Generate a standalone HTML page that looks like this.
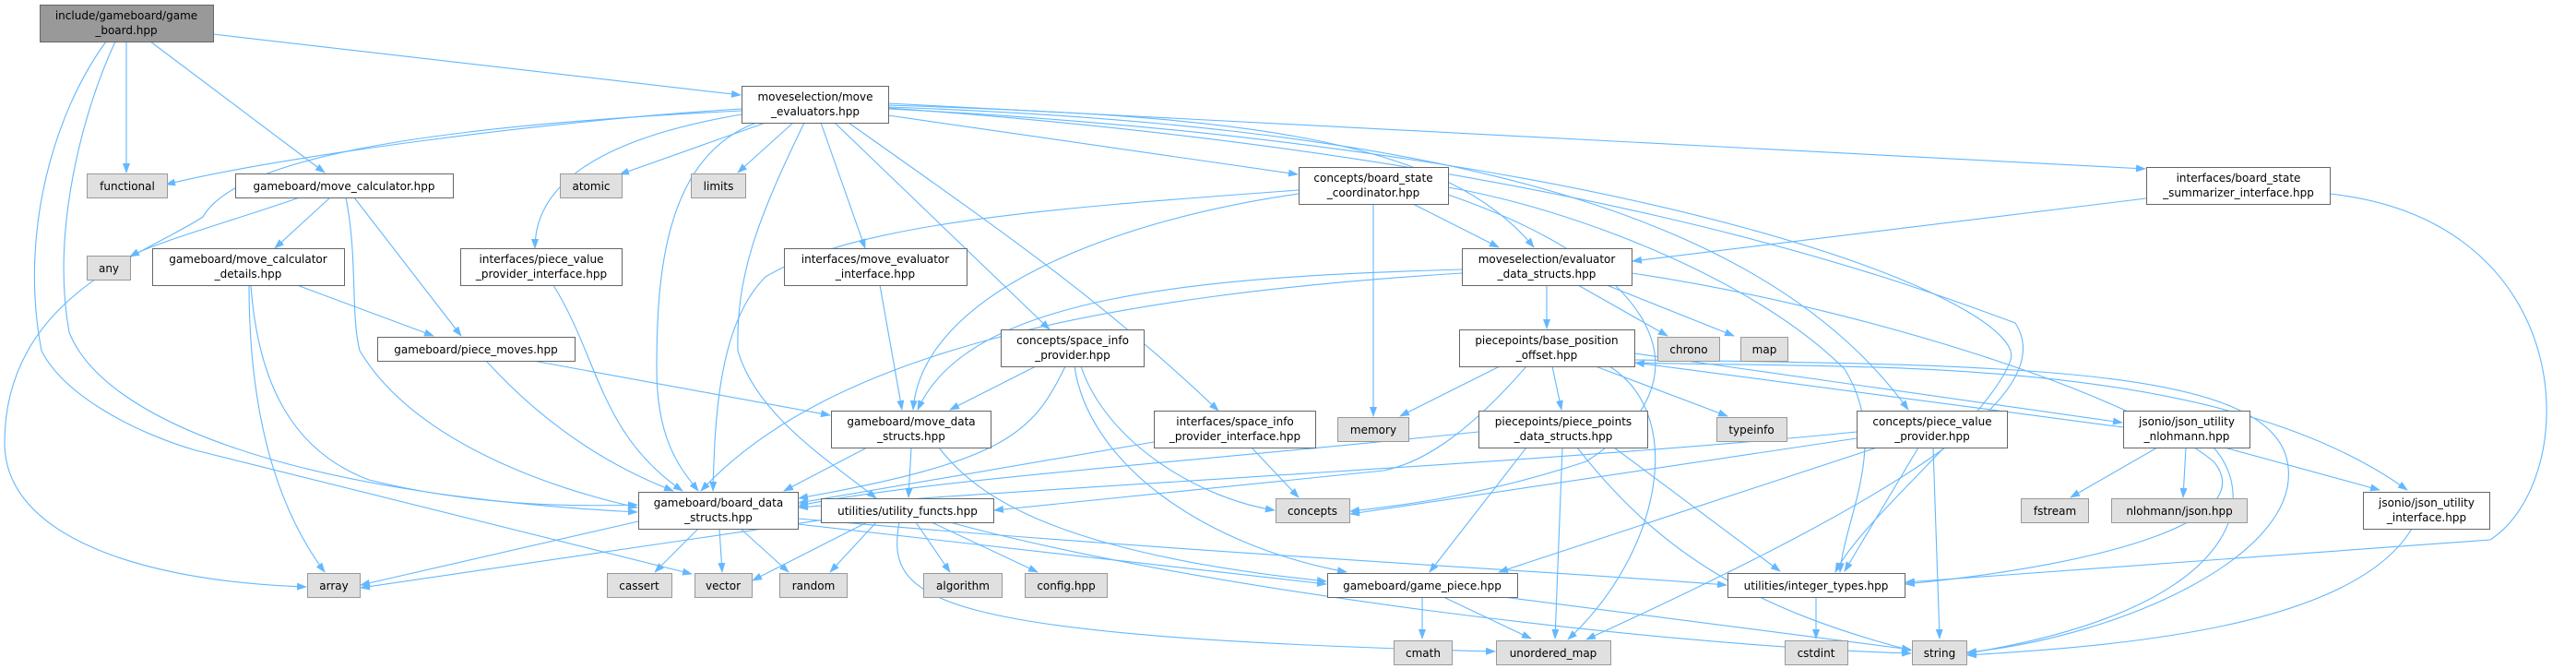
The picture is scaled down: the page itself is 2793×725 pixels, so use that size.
<!DOCTYPE html>
<html><head><meta charset="utf-8"><style>
html,body{margin:0;padding:0;background:#fff;}
svg{display:block;}
text{font-family:"DejaVu Sans","Liberation Sans",sans-serif;font-size:12px;fill:#000;text-anchor:middle;}
.e{fill:none;stroke:#63b8ff;stroke-width:1.1;marker-end:url(#a);}
.n{fill:#fff;stroke:#666;stroke-width:1;}
.s{fill:#e0e0e0;stroke:#999;stroke-width:1;}
.m{fill:#999;stroke:#666;stroke-width:1;}
</style></head><body>
<svg width="2793" height="725" viewBox="0 0 2793 725" xmlns="http://www.w3.org/2000/svg">
<defs><marker id="a" markerWidth="11" markerHeight="8" refX="10" refY="4" orient="auto" markerUnits="userSpaceOnUse"><path d="M0,0 L11,4 L0,8 z" fill="#63b8ff"/></marker></defs>
<g>
<!-- gameboard.hpp edges -->
<path class="e" d="M137,45 L137,187"/>
<path class="e" d="M163,45 L352,187"/>
<path class="e" d="M231,37 L803,103"/>
<path class="e" d="M115,45 C60,120 20,250 45,380 C70,430 150,470 212,488 L750,622"/>
<path class="e" d="M125,45 C90,120 55,250 75,360 C110,450 300,535 691,555"/>
<!-- move_evaluators edges -->
<path class="e" d="M804,120 C500,135 260,165 220,235 C160,275 5,320 5,480 C5,580 150,630 332,636"/>
<path class="e" d="M804,118 C600,130 300,170 180,200"/>
<path class="e" d="M830,133 L672,189"/>
<path class="e" d="M860,133 L800,187"/>
<path class="e" d="M820,133 C720,170 712,300 712,400 C712,480 740,510 757,532"/>
<path class="e" d="M804,124 C650,150 580,200 580,269"/>
<path class="e" d="M890,133 L938,269"/>
<path class="e" d="M872,133 C820,240 798,300 800,380 C820,450 900,500 950,540"/>
<path class="e" d="M905,133 L1138,357"/>
<path class="e" d="M920,133 C1100,260 1200,330 1321,445"/>
<path class="e" d="M963,125 L1407,189"/>
<path class="e" d="M963,114 C1300,125 1560,140 1663,268"/>
<path class="e" d="M963,116 C1500,135 1900,210 2069,444"/>
<path class="e" d="M963,112 L2326,183"/>
<path class="e" d="M963,118 C1800,160 2200,330 2180,390 C2160,450 2020,560 1990,620"/>
<path class="e" d="M963,117 C1700,170 2050,300 2185,350 C2230,420 2100,520 1720,693"/>
<!-- move_calculator edges -->
<path class="e" d="M325,214 C250,240 170,262 141,278"/>
<path class="e" d="M358,214 L298,269"/>
<path class="e" d="M375,214 C388,280 380,340 390,380 C450,480 600,530 691,550"/>
<path class="e" d="M384,214 L500,364"/>
<path class="e" d="M322,309 L470,364"/>
<path class="e" d="M270,309 C270,450 300,550 352,620"/>
<path class="e" d="M272,309 C280,420 320,490 400,520 C500,545 600,550 691,547"/>
<path class="e" d="M600,309 C650,390 650,470 740,532"/>
<path class="e" d="M527,391 C590,460 660,505 730,532"/>
<path class="e" d="M578,391 L900,450"/>
<path class="e" d="M954,309 L978,444"/>
<!-- space_info_provider -->
<path class="e" d="M1123,397 L1030,444"/>
<path class="e" d="M1155,397 C1120,470 1090,500 866,540"/>
<path class="e" d="M1172,397 C1200,480 1300,540 1382,553"/>
<path class="e" d="M1165,397 C1180,500 1300,590 1460,620"/>
<path class="e" d="M1251,479 L866,545"/>
<path class="e" d="M1357,485 L1408,539"/>
<!-- board_state_coordinator -->
<path class="e" d="M1489,221 L1489,451"/>
<path class="e" d="M1532,221 L1625,268"/>
<path class="e" d="M1408,206 C1150,225 930,240 830,300 C780,350 775,450 773,532"/>
<path class="e" d="M1408,210 C1200,240 1000,320 990,444"/>
<path class="e" d="M1570,211 C1800,290 1860,410 1720,500 C1600,540 1500,550 1464,554"/>
<path class="e" d="M1570,203 C1700,225 1900,300 2000,400 C2050,480 2000,560 1995,620"/>
<!-- evaluator_data_structs -->
<path class="e" d="M1677,309 L1677,356"/>
<path class="e" d="M1711,309 L1808,364"/>
<path class="e" d="M1742,309 L1880,364"/>
<path class="e" d="M1585,292 C1300,300 1050,320 995,444"/>
<path class="e" d="M1585,296 C1200,320 900,380 760,532"/>
<path class="e" d="M1769,296 C2000,330 2300,420 2400,500 C2450,560 2300,610 2066,633"/>
<path class="e" d="M2327,215 L1770,283"/>
<path class="e" d="M2526,210 C2800,240 2800,520 2700,585 L2066,631"/>
<!-- base_position_offset -->
<path class="e" d="M1626,397 L1518,451"/>
<path class="e" d="M1683,397 L1693,444"/>
<path class="e" d="M1730,397 L1873,451"/>
<path class="e" d="M1655,397 C1600,460 1550,500 1500,510 C1300,530 1150,545 1078,553"/>
<path class="e" d="M1772,383 L2301,458"/>
<path class="e" d="M1772,393 C2000,400 2400,380 2610,531"/>
<path class="e" d="M1772,390 C2200,395 2460,400 2480,500 C2500,600 2300,690 2133,707"/>
<path class="e" d="M1745,397 C1830,450 1800,600 1700,693"/>
<path class="e" d="M2302,463 L1773,393"/>
<!-- json -->
<path class="e" d="M2339,485 L2245,539"/>
<path class="e" d="M2370,485 L2367,539"/>
<path class="e" d="M2412,485 L2580,531"/>
<path class="e" d="M2400,485 C2450,540 2430,660 2133,708"/>
<path class="e" d="M2615,573 C2550,680 2300,700 2133,710"/>
<!-- piece_points_data_structs -->
<path class="e" d="M1603,468 C1300,500 1000,520 866,548"/>
<path class="e" d="M1655,485 L1550,620"/>
<path class="e" d="M1694,485 L1686,692"/>
<path class="e" d="M1750,485 L1930,619"/>
<path class="e" d="M1710,485 C1800,600 1900,660 2072,705"/>
<!-- piece_value_provider -->
<path class="e" d="M2013,468 C1700,500 1100,530 866,550"/>
<path class="e" d="M2013,475 L1464,557"/>
<path class="e" d="M2035,485 L1625,620"/>
<path class="e" d="M2080,485 L2000,619"/>
<path class="e" d="M2096,485 L2103,692"/>
<!-- move_data_structs -->
<path class="e" d="M988,485 L985,539"/>
<path class="e" d="M1018,485 C1060,540 1150,600 1438,630"/>
<path class="e" d="M940,485 L850,532"/>
<!-- utility_functs -->
<path class="e" d="M895,563 L391,637"/>
<path class="e" d="M940,566 L816,629"/>
<path class="e" d="M950,566 L900,620"/>
<path class="e" d="M993,566 L1030,620"/>
<path class="e" d="M1010,566 L1125,620"/>
<path class="e" d="M975,566 C960,650 1000,690 1621,706"/>
<path class="e" d="M1030,566 C1300,640 1800,700 2072,708"/>
<!-- board_data_structs -->
<path class="e" d="M692,565 L391,634"/>
<path class="e" d="M757,573 L710,620"/>
<path class="e" d="M780,573 L783,620"/>
<path class="e" d="M803,573 L855,620"/>
<path class="e" d="M865,568 L1438,633"/>
<path class="e" d="M865,562 C1300,600 1700,620 1872,634"/>
<!-- game_piece / integer_types -->
<path class="e" d="M1542,647 L1542,692"/>
<path class="e" d="M1565,647 L1660,692"/>
<path class="e" d="M1630,647 L2072,704"/>
<path class="e" d="M1969,647 L1969,692"/>
</g>
<g>
<rect class="m" x="43.5" y="5.5" width="188" height="40"/><text x="137" y="21">include/gameboard/game</text><text x="137" y="37">_board.hpp</text>
<rect class="n" x="804.5" y="93.5" width="159" height="40"/><text x="884" y="109">moveselection/move</text><text x="884" y="125">_evaluators.hpp</text>
<rect class="s" x="94.5" y="188.5" width="87" height="26"/><text x="138" y="206">functional</text>
<rect class="n" x="255.5" y="188.5" width="236" height="26"/><text x="373" y="206">gameboard/move_calculator.hpp</text>
<rect class="s" x="607.5" y="188.5" width="67" height="26"/><text x="641" y="206">atomic</text>
<rect class="s" x="749.5" y="188.5" width="59" height="26"/><text x="779" y="206">limits</text>
<rect class="n" x="1408.5" y="181.5" width="162" height="40"/><text x="1489" y="197">concepts/board_state</text><text x="1489" y="213">_coordinator.hpp</text>
<rect class="n" x="2327.5" y="181.5" width="199" height="40"/><text x="2427" y="197">interfaces/board_state</text><text x="2427" y="213">_summarizer_interface.hpp</text>
<rect class="s" x="94.5" y="277.5" width="47" height="26"/><text x="118" y="295">any</text>
<rect class="n" x="165.5" y="269.5" width="208" height="40"/><text x="269" y="285">gameboard/move_calculator</text><text x="269" y="301">_details.hpp</text>
<rect class="n" x="499.5" y="269.5" width="175" height="40"/><text x="587" y="285">interfaces/piece_value</text><text x="587" y="301">_provider_interface.hpp</text>
<rect class="n" x="850.5" y="269.5" width="198" height="40"/><text x="949" y="285">interfaces/move_evaluator</text><text x="949" y="301">_interface.hpp</text>
<rect class="n" x="1585.5" y="269.5" width="184" height="40"/><text x="1677" y="285">moveselection/evaluator</text><text x="1677" y="301">_data_structs.hpp</text>
<rect class="n" x="409.5" y="365.5" width="214" height="26"/><text x="516" y="383">gameboard/piece_moves.hpp</text>
<rect class="n" x="1085.5" y="357.5" width="155" height="40"/><text x="1163" y="373">concepts/space_info</text><text x="1163" y="389">_provider.hpp</text>
<rect class="n" x="1582.5" y="357.5" width="190" height="40"/><text x="1677" y="373">piecepoints/base_position</text><text x="1677" y="389">_offset.hpp</text>
<rect class="s" x="1797.5" y="365.5" width="67" height="26"/><text x="1831" y="383">chrono</text>
<rect class="s" x="1887.5" y="365.5" width="51" height="26"/><text x="1913" y="383">map</text>
<rect class="n" x="901.5" y="445.5" width="173" height="40"/><text x="988" y="461">gameboard/move_data</text><text x="988" y="477">_structs.hpp</text>
<rect class="n" x="1251.5" y="445.5" width="175" height="40"/><text x="1339" y="461">interfaces/space_info</text><text x="1339" y="477">_provider_interface.hpp</text>
<rect class="s" x="1450.5" y="452.5" width="77" height="26"/><text x="1489" y="470">memory</text>
<rect class="n" x="1603.5" y="445.5" width="183" height="40"/><text x="1695" y="461">piecepoints/piece_points</text><text x="1695" y="477">_data_structs.hpp</text>
<rect class="s" x="1861.5" y="452.5" width="76" height="26"/><text x="1899" y="470">typeinfo</text>
<rect class="n" x="2013.5" y="445.5" width="163" height="40"/><text x="2095" y="461">concepts/piece_value</text><text x="2095" y="477">_provider.hpp</text>
<rect class="n" x="2302.5" y="445.5" width="137" height="40"/><text x="2371" y="461">jsonio/json_utility</text><text x="2371" y="477">_nlohmann.hpp</text>
<rect class="n" x="692.5" y="533.5" width="173" height="40"/><text x="779" y="549">gameboard/board_data</text><text x="779" y="565">_structs.hpp</text>
<rect class="n" x="890.5" y="540.5" width="187" height="26"/><text x="984" y="558">utilities/utility_functs.hpp</text>
<rect class="s" x="1383.5" y="540.5" width="80" height="26"/><text x="1423" y="558">concepts</text>
<rect class="s" x="2191.5" y="540.5" width="73" height="26"/><text x="2228" y="558">fstream</text>
<rect class="s" x="2289.5" y="540.5" width="147" height="26"/><text x="2363" y="558">nlohmann/json.hpp</text>
<rect class="n" x="2562.5" y="533.5" width="137" height="40"/><text x="2631" y="549">jsonio/json_utility</text><text x="2631" y="565">_interface.hpp</text>
<rect class="s" x="333.5" y="621.5" width="57" height="26"/><text x="362" y="639">array</text>
<rect class="s" x="658.5" y="621.5" width="70" height="26"/><text x="693" y="639">cassert</text>
<rect class="s" x="753.5" y="621.5" width="62" height="26"/><text x="784" y="639">vector</text>
<rect class="s" x="845.5" y="621.5" width="73" height="26"/><text x="882" y="639">random</text>
<rect class="s" x="1001.5" y="621.5" width="85" height="26"/><text x="1044" y="639">algorithm</text>
<rect class="s" x="1111.5" y="621.5" width="89" height="26"/><text x="1156" y="639">config.hpp</text>
<rect class="n" x="1439.5" y="621.5" width="206" height="26"/><text x="1542" y="639">gameboard/game_piece.hpp</text>
<rect class="n" x="1873.5" y="621.5" width="192" height="26"/><text x="1969" y="639">utilities/integer_types.hpp</text>
<rect class="s" x="1511.5" y="694.5" width="63" height="26"/><text x="1543" y="712">cmath</text>
<rect class="s" x="1622.5" y="694.5" width="124" height="26"/><text x="1684" y="712">unordered_map</text>
<rect class="s" x="1935.5" y="694.5" width="68" height="26"/><text x="1969" y="712">cstdint</text>
<rect class="s" x="2073.5" y="694.5" width="59" height="26"/><text x="2103" y="712">string</text>
</g>
</svg>
</body></html>
